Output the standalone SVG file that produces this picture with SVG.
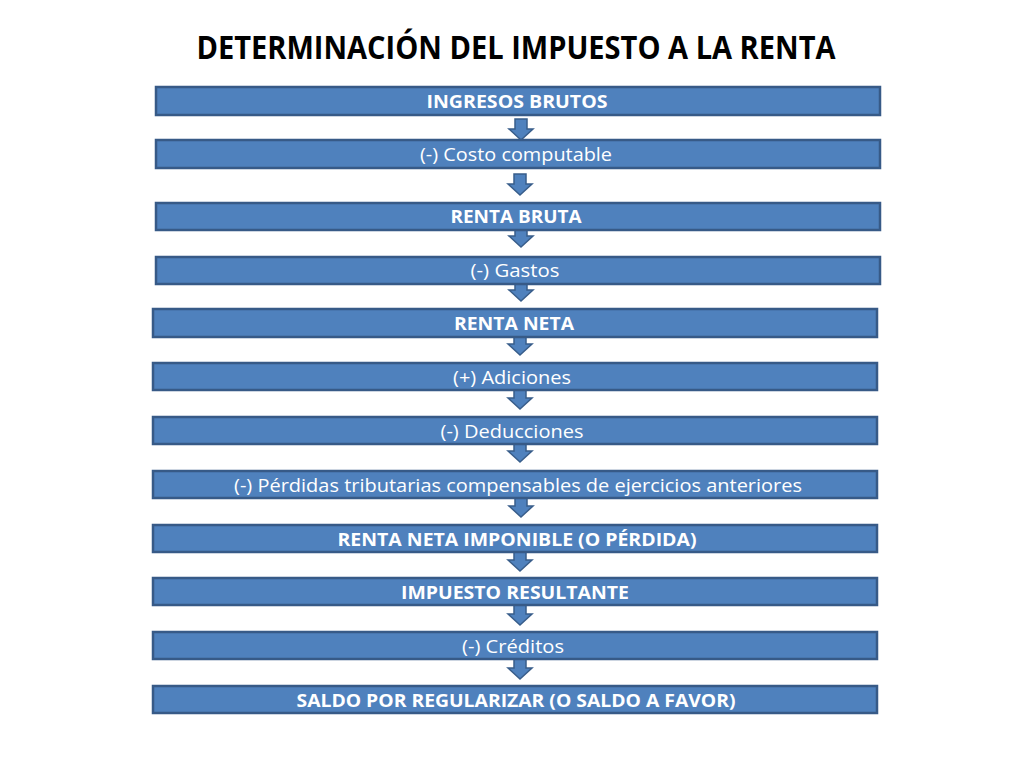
<svg xmlns="http://www.w3.org/2000/svg" width="1031" height="765" viewBox="0 0 1031 765">
<defs>
<style>
.box{fill:#4f81bd;stroke:#375a87;stroke-width:2.5}
.arr{fill:#4f81bd;stroke:#385d8a;stroke-width:1.5;stroke-linejoin:miter}
.t{font-family:"Open Sans","Liberation Sans",sans-serif;font-size:18px;fill:#ffffff;text-anchor:middle}
.b{font-weight:bold}
.title{font-family:"Open Sans","Liberation Sans",sans-serif;font-size:33px;font-weight:bold;fill:#000000;text-anchor:middle}
</style>
<path id="a" d="M-6,0 H6 V10 H12 L0,21 L-12,10 H-6 Z"/>
</defs>
<rect width="1031" height="765" fill="#ffffff"/>
<text class="title" x="516" y="59" textLength="639" lengthAdjust="spacingAndGlyphs">DETERMINACIÓN DEL IMPUESTO A LA RENTA</text>
<g id="connectors">
<use href="#a" class="arr" x="521" y="119"/>
<use href="#a" class="arr" x="520" y="174"/>
<use href="#a" class="arr" x="521" y="226"/>
<use href="#a" class="arr" x="521" y="280"/>
<use href="#a" class="arr" x="520" y="334"/>
<use href="#a" class="arr" x="520" y="388"/>
<use href="#a" class="arr" x="520" y="441"/>
<use href="#a" class="arr" x="521" y="496"/>
<use href="#a" class="arr" x="520" y="550"/>
<use href="#a" class="arr" x="520" y="604"/>
<use href="#a" class="arr" x="520" y="658"/>
</g>
<g id="n1"><rect class="box" x="156" y="87" width="724" height="28"/><text class="t b" x="517" y="108" textLength="181" lengthAdjust="spacingAndGlyphs">INGRESOS BRUTOS</text></g>
<g id="n2"><rect class="box" x="156" y="140" width="724" height="28"/><text class="t" x="516" y="161" textLength="192" lengthAdjust="spacingAndGlyphs">(-) Costo computable</text></g>
<g id="n3"><rect class="box" x="156" y="203" width="724" height="27"/><text class="t b" x="516" y="223" textLength="131" lengthAdjust="spacingAndGlyphs">RENTA BRUTA</text></g>
<g id="n4"><rect class="box" x="156" y="257" width="724" height="27"/><text class="t" x="515" y="277" textLength="89" lengthAdjust="spacingAndGlyphs">(-) Gastos</text></g>
<g id="n5"><rect class="box" x="153" y="309" width="724" height="28"/><text class="t b" x="514" y="330" textLength="120" lengthAdjust="spacingAndGlyphs">RENTA NETA</text></g>
<g id="n6"><rect class="box" x="153" y="363" width="724" height="27"/><text class="t" x="512" y="384" textLength="118" lengthAdjust="spacingAndGlyphs">(+) Adiciones</text></g>
<g id="n7"><rect class="box" x="153" y="417" width="724" height="27"/><text class="t" x="512" y="438" textLength="143" lengthAdjust="spacingAndGlyphs">(-) Deducciones</text></g>
<g id="n8"><rect class="box" x="153" y="471" width="724" height="27"/><text class="t" x="518" y="492" textLength="568" lengthAdjust="spacingAndGlyphs">(-) Pérdidas tributarias compensables de ejercicios anteriores</text></g>
<g id="n9"><rect class="box" x="153" y="525" width="724" height="27"/><text class="t b" x="517" y="546" textLength="359" lengthAdjust="spacingAndGlyphs">RENTA NETA IMPONIBLE (O PÉRDIDA)</text></g>
<g id="n10"><rect class="box" x="153" y="578" width="724" height="27"/><text class="t b" x="515" y="599" textLength="228" lengthAdjust="spacingAndGlyphs">IMPUESTO RESULTANTE</text></g>
<g id="n11"><rect class="box" x="153" y="632" width="724" height="27"/><text class="t" x="513" y="653" textLength="102" lengthAdjust="spacingAndGlyphs">(-) Créditos</text></g>
<g id="n12"><rect class="box" x="153" y="686" width="724" height="27"/><text class="t b" x="516" y="707" textLength="439" lengthAdjust="spacingAndGlyphs">SALDO POR REGULARIZAR (O SALDO A FAVOR)</text></g>
</svg>
